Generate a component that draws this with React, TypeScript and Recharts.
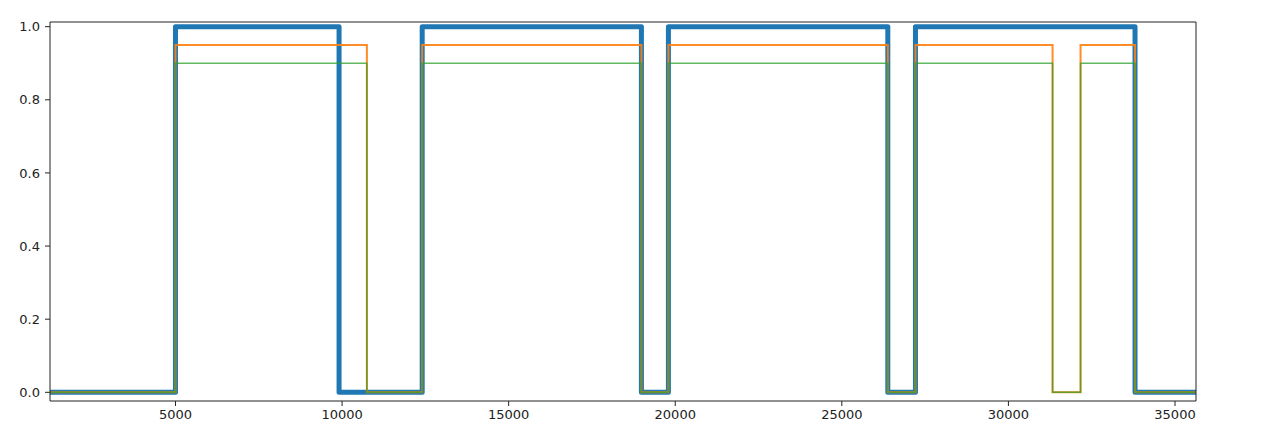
import React from "react";
import { LineChart, Line, XAxis, YAxis } from "recharts";

const blueX = [1234, 5000, 9910, 12405, 18985, 19795, 26380, 27210, 33800, 35630];
const blueY = [0, 1, 0, 1, 0, 1, 0, 1, 0, 0];
const orangeX = [1234, 5000, 10745, 12405, 18985, 19795, 26380, 27210, 31325, 32165, 33800, 35630];
const orangeY = [0, 0.95, 0, 0.95, 0, 0.95, 0, 0.95, 0, 0.95, 0, 0];
const greenX = [1234, 5000, 10745, 12405, 18985, 19795, 26380, 27210, 31325, 32165, 33800, 35630];
const greenY = [0, 0.9, 0, 0.9, 0, 0.9, 0, 0.9, 0, 0.9, 0, 0];

const xTicks = [5000, 10000, 15000, 20000, 25000, 30000, 35000];
const yTicks = [0, 0.2, 0.4, 0.6, 0.8, 1.0];

const zip = (xs: number[], ys: number[]) => xs.map((x, i) => ({ x, y: ys[i] }));

const blueData = zip(blueX, blueY);
const orangeData = zip(orangeX, orangeY);
const greenData = zip(greenX, greenY);

const font = { fontFamily: "DejaVu Sans", fontSize: 13, fill: "#222" };

export default function App() {
  return (
    <div style={{ position: "absolute", left: 0, top: 0 }}>
      <LineChart
        width={1280}
        height={443}
        margin={{ top: 21, right: 83, bottom: 12, left: 0 }}
      >
        <XAxis
          xAxisId="b"
          dataKey="x"
          type="number"
          domain={[1234, 35630]}
          allowDataOverflow
          ticks={xTicks}
          tickSize={5}
          tickMargin={4}
          height={30}
          stroke="#222"
          tick={font}
          tickLine={{ stroke: "#222" }}
          axisLine={{ stroke: "#222" }}
        />
        <XAxis
          xAxisId="t"
          dataKey="x"
          type="number"
          orientation="top"
          domain={[1234, 35630]}
          allowDataOverflow
          height={1}
          ticks={[]}
          tick={false}
          tickLine={false}
          axisLine={{ stroke: "#222" }}
          stroke="#222"
        />
        <YAxis
          yAxisId="l"
          type="number"
          domain={[-0.0238, 1.0128]}
          allowDataOverflow
          ticks={yTicks}
          tickFormatter={(v: number) => v.toFixed(1)}
          tickSize={5}
          tickMargin={5}
          width={50}
          stroke="#222"
          tick={font}
        />
        <YAxis
          yAxisId="r"
          orientation="right"
          type="number"
          domain={[-0.0238, 1.0128]}
          allowDataOverflow
          width={1}
          ticks={[]}
          tick={false}
          tickLine={false}
          axisLine={{ stroke: "#222" }}
          stroke="#222"
        />
        <Line
          xAxisId="b"
          yAxisId="l"
          data={blueData}
          dataKey="y"
          type="stepAfter"
          stroke="#1f77b4"
          strokeWidth={5}
          strokeLinejoin="round"
          dot={false}
          activeDot={false}
          isAnimationActive={false}
        />
        <Line
          xAxisId="b"
          yAxisId="l"
          data={orangeData}
          dataKey="y"
          type="stepAfter"
          stroke="#ff7f0e"
          strokeWidth={2}
          strokeOpacity={0.9}
          dot={false}
          activeDot={false}
          isAnimationActive={false}
        />
        <Line
          xAxisId="b"
          yAxisId="l"
          data={greenData}
          dataKey="y"
          type="stepAfter"
          stroke="#2ca02c"
          strokeWidth={1.5}
          strokeOpacity={0.75}
          dot={false}
          activeDot={false}
          isAnimationActive={false}
        />
      </LineChart>
    </div>
  );
}
